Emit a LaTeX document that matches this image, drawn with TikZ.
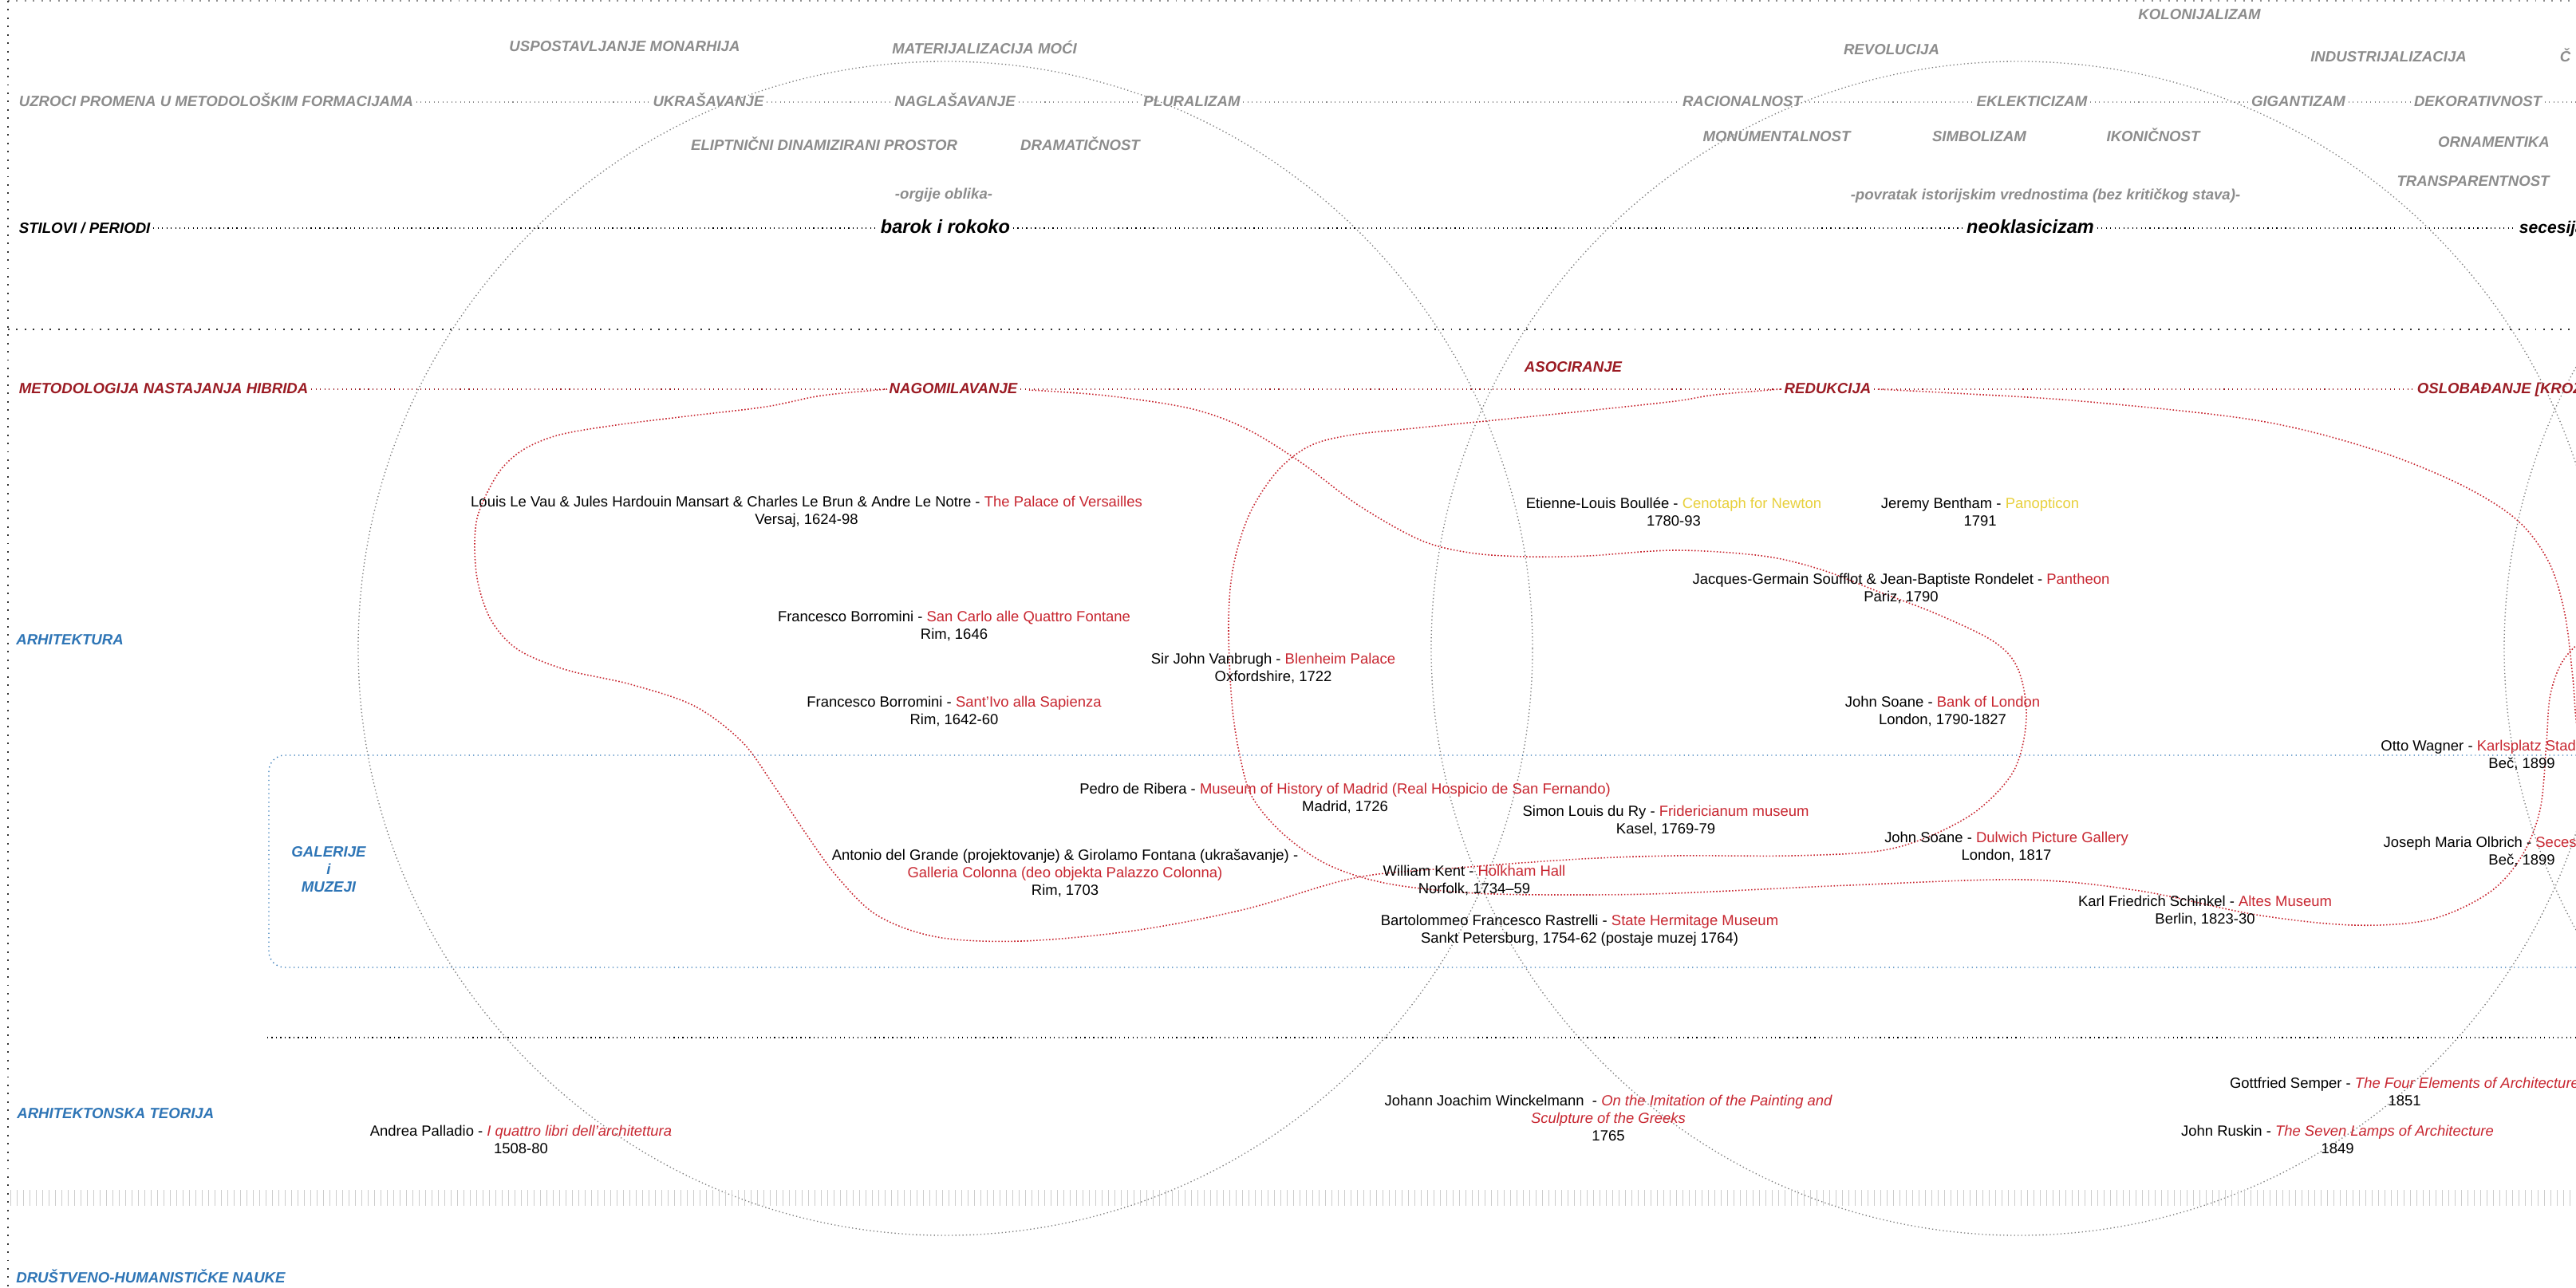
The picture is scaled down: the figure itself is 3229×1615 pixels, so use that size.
\documentclass[tikz,border=0pt]{standalone}
\usepackage{fontspec}
\setmainfont{Liberation Sans}
\usetikzlibrary{positioning}
\definecolor{causegrey}{RGB}{140,140,140}
\definecolor{hibridred}{RGB}{155,27,35}
\definecolor{titlered}{RGB}{200,38,48}
\definecolor{ideayellow}{RGB}{232,208,60}
\definecolor{fieldblue}{RGB}{46,117,182}
\definecolor{circgrey}{RGB}{125,125,125}
\definecolor{hatchgrey}{RGB}{205,205,205}
\newcommand{\labfont}{\fontsize{10.6}{12.5}\selectfont\bfseries\itshape}
\newcommand{\bodyfont}{\fontsize{10.5}{12.5}\selectfont}
\newcommand{\periodfont}{\fontsize{13.4}{15}\selectfont\bfseries\itshape}
\newcommand{\redt}[1]{\textcolor{titlered}{#1}}
\newcommand{\yelt}[1]{\textcolor{ideayellow}{#1}}
\newcommand{\redit}[1]{\textcolor{titlered}{\itshape #1}}

\begin{document}
\begin{tikzpicture}[x=0.02cm, y=-0.02cm,
    cause/.style={font=\labfont, text=causegrey, inner sep=2pt, text height=8pt, text depth=2pt},
    hibrid/.style={font=\labfont, text=hibridred, inner sep=2pt, text height=8pt, text depth=2pt},
    field/.style={font=\labfont, text=fieldblue, inner sep=0pt},
    period/.style={font=\periodfont, inner sep=2pt, text height=10pt, text depth=3pt},
    work/.style={font=\bodyfont, align=center, inner sep=0pt},
    causeline/.style={causegrey, line width=0.7pt, dash pattern=on 0.6pt off 2.518pt},
    hibridline/.style={hibridred, line width=0.7pt, dash pattern=on 0.6pt off 2.518pt},
    periodline/.style={black, line width=0.8pt, dash pattern=on 0.7pt off 2.418pt},
    sepline/.style={black!80, line width=1.1pt, dash pattern=on 1.1pt off 4.85pt},
    boxline/.style={fieldblue, line width=0.8pt, dash pattern=on 0.7pt off 2.418pt},
    circ/.style={circgrey, line width=0.75pt, dash pattern=on 0.75pt off 1.8pt},
    blob/.style={titlered, line width=0.9pt, dash pattern=on 0.9pt off 1.368pt},
    hatch/.style={hatchgrey, line width=0.4pt}]
  \clip (0,0) rectangle (3229,1615);
  \fill[white] (0,0) rectangle (3229,1615);

  % frame
  \draw[sepline, causegrey] (10,1) -- (3229,1);
  \draw[sepline] (10,1) -- (10,1615);

  % big circles
  \coordinate (cA) at (1185,813);
  \coordinate (cB) at (2530,813);
  \coordinate (cC) at (3875,813);
  \foreach \c in {cA,cB,cC}
    \draw[circ] (\c) circle [radius=736];

  % causes of change
  \node[cause] (monarh) at (783,59) {USPOSTAVLJANJE MONARHIJA};
  \node[cause] (moc) at (1234,62) {MATERIJALIZACIJA MOĆI};
  \node[cause] (kolon) at (2757,19) {KOLONIJALIZAM};
  \node[cause] (revol) at (2371,63) {REVOLUCIJA};
  \node[cause] (industr) at (2994,72) {INDUSTRIJALIZACIJA};
  \node[cause, anchor=west] (cel) at (3205,72) {Č};

  \node[cause, anchor=west] (uzroci) at (20,128) {UZROCI PROMENA U METODOLOŠKIM FORMACIJAMA};
  \node[cause] (ukras) at (888,128) {UKRAŠAVANJE};
  \node[cause] (naglas) at (1197,128) {NAGLAŠAVANJE};
  \node[cause] (plural) at (1494,128) {PLURALIZAM};
  \node[cause] (racio) at (2184,128) {RACIONALNOST};
  \node[cause] (eklek) at (2547,128) {EKLEKTICIZAM};
  \node[cause] (gigant) at (2881,128) {GIGANTIZAM};
  \node[cause] (dekor) at (3106,128) {DEKORATIVNOST};
  \coordinate (uzrociEnd) at (3229,128);
  \draw[causeline] (uzroci) -- (ukras) -- (naglas) -- (plural) -- (racio)
    -- (eklek) -- (gigant) -- (dekor) -- (uzrociEnd);

  \node[cause] (elipt) at (1033,183) {ELIPTNIČNI DINAMIZIRANI PROSTOR};
  \node[cause] (dramat) at (1354,183) {DRAMATIČNOST};
  \node[cause] (monum) at (2227,172) {MONUMENTALNOST};
  \node[cause] (simbol) at (2481,172) {SIMBOLIZAM};
  \node[cause] (ikon) at (2699,172) {IKONIČNOST};
  \node[cause] (ornam) at (3126,179) {ORNAMENTIKA};
  \node[cause] (transp) at (3100,228) {TRANSPARENTNOST};
  \node[cause] (orgije) at (1183,244) {-orgije oblika-};
  \node[cause] (povrat) at (2564,245) {-povratak istorijskim vrednostima (bez kritičkog stava)-};

  % styles / periods
  \node[period, anchor=west, font=\labfont] (stilovi) at (20,286) {STILOVI / PERIODI};
  \node[period] (barok) at (1185,286) {barok i rokoko};
  \node[period] (neoklas) at (2545,286) {neoklasicizam};
  \node[period, anchor=west, font=\fontsize{12}{14}\selectfont\bfseries\itshape] (secesija) at (3154,286) {secesija};
  \draw[periodline] (stilovi) -- (barok) -- (neoklas) -- (secesija);

  % separator
  \coordinate (sepL) at (10,413);
  \coordinate (sepR) at (3229,413);
  \draw[sepline] (sepL) -- (sepR);

  % methodology of hybrids
  \node[hibrid, anchor=west] (metod) at (20,488) {METODOLOGIJA NASTAJANJA HIBRIDA};
  \node[hibrid] (nagom) at (1195,488) {NAGOMILAVANJE};
  \node[hibrid] (reduk) at (2291,488) {REDUKCIJA};
  \node[hibrid, anchor=west] (oslob) at (3026,488) {OSLOBAĐANJE [KROZ};
  \node[hibrid] (asoc) at (1972,461) {ASOCIRANJE};
  \draw[hibridline] (metod) -- (nagom) -- (reduk) -- (oslob);

  % fields
  \node[field, anchor=west] (arh) at (20,802) {ARHITEKTURA};
  \node[field, align=center] (galer) at (412,1090) {GALERIJE\\i\\MUZEJI};
  \node[field, anchor=west] (teorija) at (21,1396) {ARHITEKTONSKA TEORIJA};
  \node[field, anchor=west] (drustvo) at (20,1600) {DRUŠTVENO-HUMANISTIČKE NAUKE};

  % galleries and museums box
  \draw[boxline, rounded corners=0.4cm] (337,947) rectangle (3400,1213);
  \coordinate (teoL) at (335,1301);
  \coordinate (teoR) at (3229,1301);
  \draw[periodline] (teoL) -- (teoR);

  % hatched band
  \foreach \hx in {13,21,...,3229}
    \draw[hatch] (\hx,1492) -- (\hx,1512);

  % accumulation blob
  \draw[blob] plot[smooth, tension=0.55] coordinates {
    (1112,488) (1030,496) (960,510) (860,522) (772,533) (702,545) (659,562)
    (631,585) (612,615) (598,650) (595,690) (600,735) (617,780) (650,815)
    (710,840) (790,858) (870,885) (930,930) (970,985) (1010,1045) (1050,1100)
    (1100,1148) (1175,1175) (1281,1180) (1421,1167) (1561,1140) (1702,1100)
    (1842,1087) (1982,1077) (2100,1073) (2246,1073) (2355,1067) (2420,1048)
    (2480,1015) (2525,965) (2540,900) (2530,840) (2500,805) (2428,770)
    (2355,742) (2282,714) (2209,697) (2100,690) (1990,697) (1912,698)
    (1842,693) (1780,677) (1702,633) (1631,580) (1561,537) (1491,512)
    (1386,496) (1290,489)};

  % reduction blob
  \draw[blob] plot[smooth, tension=0.55] coordinates {
    (2232,488) (2150,495) (2100,503) (1990,515) (1912,523) (1772,537)
    (1690,546) (1640,560) (1600,592) (1566,645) (1546,710) (1540,780)
    (1544,880) (1554,947) (1570,1000) (1610,1047) (1666,1085) (1740,1108)
    (1850,1120) (1980,1122) (2100,1120) (2318,1110) (2537,1103) (2682,1117)
    (2828,1147) (2950,1160) (3046,1153) (3119,1120) (3160,1075) (3184,1015)
    (3192,930) (3197,870) (3215,825) (3250,800) (3300,830) (3300,920)
    (3255,960) (3232,920) (3225,850) (3215,770) (3195,705) (3155,652)
    (3083,607) (2973,563) (2828,527) (2609,503) (2450,493) (2352,488)};

  % architecture
  \node[work] (versai) at (1011,642) {Louis Le Vau \& Jules Hardouin Mansart \& Charles Le Brun \& Andre Le Notre - \redt{The Palace of Versailles}\\Versaj, 1624-98};
  \node[work] (scarlo) at (1196,785) {Francesco Borromini - \redt{San Carlo alle Quattro Fontane}\\Rim, 1646};
  \node[work] (blenh) at (1596,838) {Sir John Vanbrugh - \redt{Blenheim Palace}\\Oxfordshire, 1722};
  \node[work] (sivo) at (1196,892) {Francesco Borromini - \redt{Sant'Ivo alla Sapienza}\\Rim, 1642-60};
  \node[work] (cenot) at (2098,642) {Etienne-Louis Boullée - \yelt{Cenotaph for Newton}\\1780-93};
  \node[work] (panopt) at (2482,642) {Jeremy Bentham - \yelt{Panopticon}\\1791};
  \node[work] (panth) at (2383,738) {Jacques-Germain Soufflot \& Jean-Baptiste Rondelet - \redt{Pantheon}\\Pariz, 1790};
  \node[work] (bankl) at (2435,892) {John Soane - \redt{Bank of London}\\London, 1790-1827};
  \node[work] (karls) at (3161,947) {Otto Wagner - \redt{Karlsplatz Stadtbahn Station}\\Beč, 1899};

  % galleries and museums
  \node[work] (ribera) at (1686,1001) {Pedro de Ribera - \redt{Museum of History of Madrid (Real Hospicio de San Fernando)}\\Madrid, 1726};
  \node[work] (frider) at (2088,1029) {Simon Louis du Ry - \redt{Fridericianum museum}\\Kasel, 1769-79};
  \node[work] (colonna) at (1335,1095) {Antonio del Grande (projektovanje) \& Girolamo Fontana (ukrašavanje) -\\\redt{Galleria Colonna (deo objekta Palazzo Colonna)}\\Rim, 1703};
  \node[work] (holkh) at (1848,1104) {William Kent - \redt{Holkham Hall}\\Norfolk, 1734--59};
  \node[work] (hermit) at (1980,1167) {Bartolommeo Francesco Rastrelli - \redt{State Hermitage Museum}\\Sankt Petersburg, 1754-62 (postaje muzej 1764)};
  \node[work] (dulw) at (2515,1062) {John Soane - \redt{Dulwich Picture Gallery}\\London, 1817};
  \node[work] (altes) at (2764,1142) {Karl Friedrich Schinkel - \redt{Altes Museum}\\Berlin, 1823-30};
  \node[work] (secess) at (3161,1068) {Joseph Maria Olbrich - \redt{Secession Building}\\Beč, 1899};

  % theory
  \node[work] (pallad) at (653,1429) {Andrea Palladio - \redit{I quattro libri dell'architettura}\\1508-80};
  \node[work] (winck) at (2016,1402) {Johann Joachim Winckelmann\ \ - \redit{On the Imitation of the Painting and}\\\redit{Sculpture of the Greeks}\\1765};
  \node[work] (semper) at (3014,1369) {Gottfried Semper - \redit{The Four Elements of Architecture}\\1851};
  \node[work] (ruskin) at (2930,1429) {John Ruskin - \redit{The Seven Lamps of Architecture}\\1849};
\end{tikzpicture}
\end{document}
